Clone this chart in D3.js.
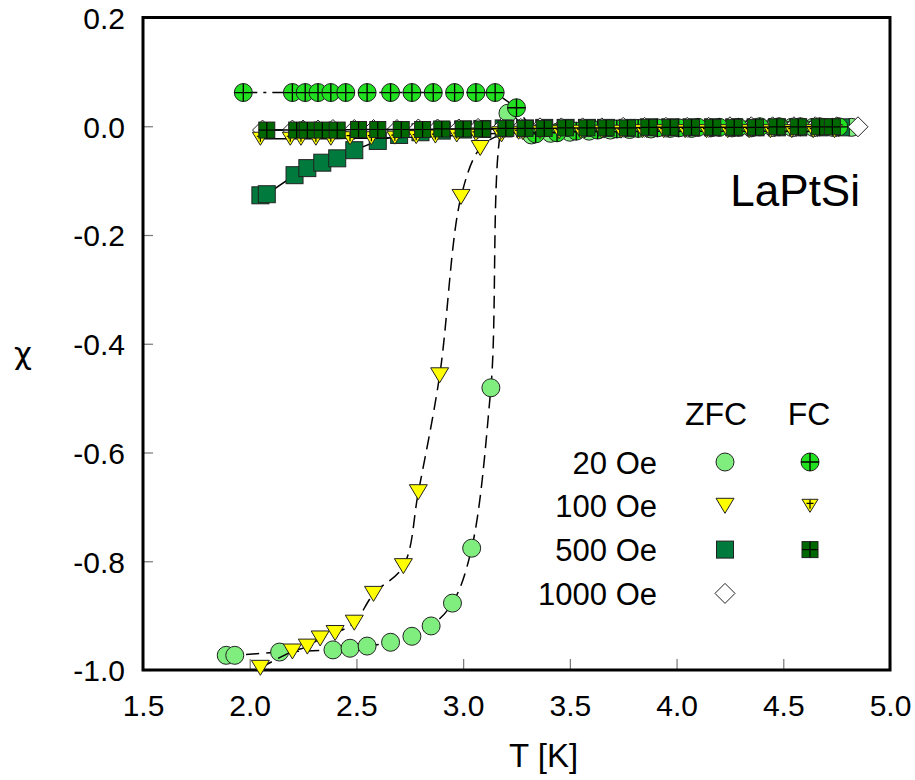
<!DOCTYPE html>
<html>
<head>
<meta charset="utf-8">
<script src="https://cdn.jsdelivr.net/npm/d3@7"></script>
<style>
  body { margin: 0; background: #fff; }
  text { font-family: "Liberation Sans", Arial, Helvetica, sans-serif; fill: #000; }
</style>
</head>
<body>
<div id="grafica"></div>
<script>
// ZFC 20 Oe
var zfc20T = [1.89, 1.93, 2.14, 2.39, 2.47, 2.55, 2.66, 2.76, 2.85, 2.95, 3.04, 3.13, 3.21, 3.32, 3.41, 3.50, 3.59, 3.69, 3.78, 3.88, 3.97, 4.07, 4.16, 4.26, 4.35, 4.45, 4.54, 4.64, 4.73, 4.82];
var zfc20X = [-0.973, -0.973, -0.967, -0.963, -0.960, -0.956, -0.949, -0.938, -0.919, -0.877, -0.776, -0.481, 0.024, -0.016, -0.013, -0.011, -0.009, -0.007, -0.006, -0.005, -0.004, -0.004, -0.003, -0.003, -0.003, -0.002, -0.002, -0.002, -0.002, -0.002];
// FC 20 Oe
var fc20T = [1.97, 2.20, 2.26, 2.32, 2.38, 2.45, 2.55, 2.66, 2.76, 2.86, 2.96, 3.06, 3.15, 3.25, 3.34, 3.44, 3.53, 3.63, 3.72, 3.82, 3.91, 4.01, 4.10, 4.20, 4.29, 4.39, 4.48, 4.58, 4.67, 4.76];
var fc20X = [0.062, 0.062, 0.062, 0.062, 0.062, 0.062, 0.062, 0.062, 0.062, 0.062, 0.062, 0.062, 0.062, 0.034, -0.014, -0.012, -0.009, -0.007, -0.005, -0.004, -0.003, -0.003, -0.002, -0.002, -0.002, -0.001, -0.001, -0.001, -0.001, -0.001];
// ZFC 100 Oe
var zfc100T = [2.05, 2.20, 2.27, 2.33, 2.40, 2.49, 2.58, 2.72, 2.79, 2.89, 2.99, 3.08, 3.18, 3.28, 3.37, 3.47, 3.57, 3.66, 3.76, 3.86, 3.96, 4.06, 4.16, 4.26, 4.36, 4.46, 4.56, 4.66, 4.76];
var zfc100X = [-0.996, -0.966, -0.957, -0.942, -0.932, -0.913, -0.860, -0.809, -0.673, -0.458, -0.130, -0.040, -0.015, -0.011, -0.010, -0.009, -0.008, -0.008, -0.007, -0.007, -0.006, -0.006, -0.006, -0.005, -0.005, -0.005, -0.005, -0.005, -0.005];
// FC 100 Oe
var fc100T = [2.05, 2.19, 2.24, 2.31, 2.38, 2.47, 2.57, 2.68, 2.78, 2.87, 2.97, 3.06, 3.17, 3.26, 3.36, 3.45, 3.55, 3.65, 3.74, 3.84, 3.94, 4.04, 4.14, 4.24, 4.34, 4.44, 4.54, 4.64, 4.74];
var fc100X = [-0.023, -0.023, -0.023, -0.023, -0.023, -0.022, -0.022, -0.021, -0.020, -0.019, -0.017, -0.015, -0.013, -0.012, -0.011, -0.011, -0.010, -0.010, -0.010, -0.009, -0.009, -0.009, -0.009, -0.009, -0.009, -0.009, -0.009, -0.009, -0.009];
// ZFC 500 Oe
var zfc500T = [2.05, 2.08, 2.21, 2.27, 2.34, 2.41, 2.49, 2.60, 2.70, 2.80, 2.90, 3.00, 3.09, 3.19, 3.29, 3.38, 3.48, 3.58, 3.67, 3.77, 3.87, 3.97, 4.07, 4.17, 4.27, 4.37, 4.47, 4.57, 4.67, 4.77];
var zfc500X = [-0.127, -0.125, -0.090, -0.077, -0.067, -0.059, -0.044, -0.027, -0.016, -0.011, -0.008, -0.006, -0.005, -0.004, -0.004, -0.003, -0.003, -0.003, -0.003, -0.003, -0.002, -0.002, -0.002, -0.002, -0.002, -0.002, -0.002, -0.002, -0.002, -0.002];
// FC 500 Oe
var fc500T = [2.08, 2.22, 2.27, 2.34, 2.41, 2.51, 2.60, 2.71, 2.81, 2.90, 3.00, 3.09, 3.20, 3.29, 3.38, 3.48, 3.58, 3.67, 3.77, 3.87, 3.97, 4.07, 4.17, 4.27, 4.37, 4.47, 4.57, 4.67, 4.73];
var fc500X = [-0.007, -0.007, -0.007, -0.007, -0.007, -0.006, -0.006, -0.006, -0.006, -0.005, -0.005, -0.005, -0.004, -0.004, -0.004, -0.003, -0.003, -0.003, -0.003, -0.002, -0.002, -0.002, -0.002, -0.002, -0.002, -0.001, -0.001, -0.001, -0.001];
// ZFC 1000 Oe
var zfc1000T = [2.06, 2.20, 2.25, 2.32, 2.39, 2.49, 2.58, 2.69, 2.79, 2.88, 2.98, 3.07, 3.18, 3.27, 3.36, 3.46, 3.56, 3.65, 3.75, 3.85, 3.95, 4.05, 4.15, 4.25, 4.35, 4.45, 4.55, 4.65, 4.75, 4.85];
var zfc1000X = [-0.007, -0.007, -0.007, -0.007, -0.006, -0.006, -0.006, -0.006, -0.005, -0.005, -0.005, -0.004, -0.004, -0.004, -0.003, -0.003, -0.003, -0.003, -0.002, -0.002, -0.002, -0.002, -0.002, -0.001, -0.001, -0.001, -0.001, -0.001, -0.001, -0.001];

var xTicks = [1.5, 2.0, 2.5, 3.0, 3.5, 4.0, 4.5, 5.0];
var yTicks = [0.2, 0.0, -0.2, -0.4, -0.6, -0.8, -1.0];
var legendFields = ["20 Oe", "100 Oe", "500 Oe", "1000 Oe"];


var margin = {top: 17.5, right: 25, bottom: 110, left: 143},
    width = 915 - margin.left - margin.right,
    height = 780 - margin.top - margin.bottom;

var svg = d3.select("#grafica")
  .append("svg")
    .attr("width", 915)
    .attr("height", 780)
  .append("g")
    .attr("transform", "translate(" + margin.left + "," + margin.top + ")");

var x = d3.scaleLinear().domain([1.5, 5.0]).range([0, width]);
var y = d3.scaleLinear().domain([-1.0, 0.2]).range([height, 0]);

function fmt(d) { return d.toFixed(1); }

// axes, ticks pointing inside
var xAxis = svg.append("g")
  .attr("transform", "translate(0," + height + ")")
  .call(d3.axisBottom(x).tickValues(xTicks).tickSize(-11).tickFormat(fmt));
xAxis.select(".domain").remove();
xAxis.selectAll("line").attr("stroke", "#777").attr("stroke-width", 1.2);
xAxis.selectAll("text").attr("y", 46).attr("dy", 0).style("font-size", "30px").attr("fill", "#000");

var yAxis = svg.append("g")
  .call(d3.axisLeft(y).tickValues(yTicks).tickSize(-10).tickPadding(18).tickFormat(fmt));
yAxis.select(".domain").remove();
yAxis.selectAll("line").attr("stroke", "#777").attr("stroke-width", 1.2);
yAxis.selectAll("text").attr("dy", "0.36em").style("font-size", "30px").attr("fill", "#000");

// frame
svg.append("rect")
  .attr("x", 0).attr("y", 0)
  .attr("width", width).attr("height", height)
  .attr("fill", "none")
  .attr("stroke", "#000")
  .attr("stroke-width", 3);

svg.append("text")
  .attr("x", 366).attr("y", height + 97)
  .style("font-size", "33px")
  .text("T [K]");

svg.append("text")
  .attr("x", -129).attr("y", 346)
  .style("font-size", "31px")
  .style("font-family", "'DejaVu Sans', sans-serif")
  .text("χ");

svg.append("text")
  .attr("x", width - 30).attr("y", 188)
  .attr("text-anchor", "end")
  .style("font-size", "44px")
  .text("LaPtSi");

function pts(ts, vs) {
  return ts.map(function(t, i) { return {t: t, v: vs[i]}; });
}

var zfc20 = pts(zfc20T, zfc20X), fc20 = pts(fc20T, fc20X),
    zfc100 = pts(zfc100T, zfc100X), fc100 = pts(fc100T, fc100X),
    zfc500 = pts(zfc500T, zfc500X), fc500 = pts(fc500T, fc500X),
    zfc1000 = pts(zfc1000T, zfc1000X);

var straight = d3.line()
  .x(function(d) { return x(d.t); })
  .y(function(d) { return y(d.v); });
var smooth = d3.line()
  .x(function(d) { return x(d.t); })
  .y(function(d) { return y(d.v); })
  .curve(d3.curveCatmullRom);

// marker shapes
function addMarker(g, kind) {
  if (kind == "zfc20") {
    g.append("circle").attr("r", 9).attr("fill", "#7fee7f").attr("stroke", "#222").attr("stroke-width", 1);
  }
  if (kind == "fc20") {
    g.append("circle").attr("r", 9).attr("fill", "#20e020").attr("stroke", "#222").attr("stroke-width", 1);
    g.append("path").attr("d", "M-9,0H9M0,-9V9").attr("stroke", "#000").attr("stroke-width", 1.3);
  }
  if (kind == "zfc100") {
    g.append("path").attr("d", "M-9,-7.5L9,-7.5L0,7.5Z").attr("fill", "#ffff00").attr("stroke", "#222").attr("stroke-width", 1);
  }
  if (kind == "fc100") {
    g.append("path").attr("d", "M-8,-6.5L8,-6.5L0,6.5Z").attr("fill", "#ffff00").attr("stroke", "#222").attr("stroke-width", 1);
    g.append("path").attr("d", "M-3.5,-2.5H3.5M0,-6V3").attr("stroke", "#000").attr("stroke-width", 1.2);
  }
  if (kind == "zfc500") {
    g.append("rect").attr("x", -8.5).attr("y", -8.5).attr("width", 17).attr("height", 17)
      .attr("fill", "#007a3d").attr("stroke", "#222").attr("stroke-width", 1);
  }
  if (kind == "fc500") {
    g.append("rect").attr("x", -8).attr("y", -8).attr("width", 16).attr("height", 16)
      .attr("fill", "#006800").attr("stroke", "#222").attr("stroke-width", 1);
    g.append("path").attr("d", "M-8,0H8M0,-8V8").attr("stroke", "#000").attr("stroke-width", 1.2);
  }
  if (kind == "zfc1000") {
    g.append("path").attr("d", "M0,-10L10,0L0,10L-10,0Z").attr("fill", "#fff").attr("stroke", "#222").attr("stroke-width", 1);
  }
}

function series(data, kind, lineGen, dash) {
  svg.append("path")
    .datum(data)
    .attr("fill", "none")
    .attr("stroke", "#000")
    .attr("stroke-width", 1.5)
    .attr("stroke-dasharray", dash)
    .attr("d", lineGen);
  svg.append("g").selectAll("g")
    .data(data)
    .enter().append("g")
      .attr("transform", function(d) { return "translate(" + x(d.t) + "," + y(d.v) + ")"; })
      .each(function() { addMarker(d3.select(this), kind); });
}

series(zfc20, "zfc20", smooth, "13,7");
series(zfc100, "zfc100", smooth, "13,7");
series(zfc500, "zfc500", straight, null);
series(zfc1000, "zfc1000", straight, null);
series(fc20, "fc20", straight, "14,6,3,6");
series(fc100, "fc100", straight, null);
series(fc500, "fc500", straight, null);

// legend
var leg = svg.append("g");
leg.append("text").attr("x", 573).attr("y", 407).attr("text-anchor", "middle").style("font-size", "32px").text("ZFC");
leg.append("text").attr("x", 666).attr("y", 407).attr("text-anchor", "middle").style("font-size", "32px").text("FC");

var zfcKinds = ["zfc20", "zfc100", "zfc500", "zfc1000"];
var fcKinds = ["fc20", "fc100", "fc500", null];

legendFields.forEach(function(name, i) {
  var yy = 456 + i * 43.8;
  leg.append("text")
    .attr("x", 514).attr("y", yy)
    .attr("text-anchor", "end")
    .style("font-size", "31px")
    .text(name);
  addMarker(leg.append("g").attr("transform", "translate(582," + (yy - 11.5) + ")"), zfcKinds[i]);
  if (fcKinds[i]) {
    addMarker(leg.append("g").attr("transform", "translate(667," + (yy - 11.5) + ")"), fcKinds[i]);
  }
});
</script>
</body>
</html>
